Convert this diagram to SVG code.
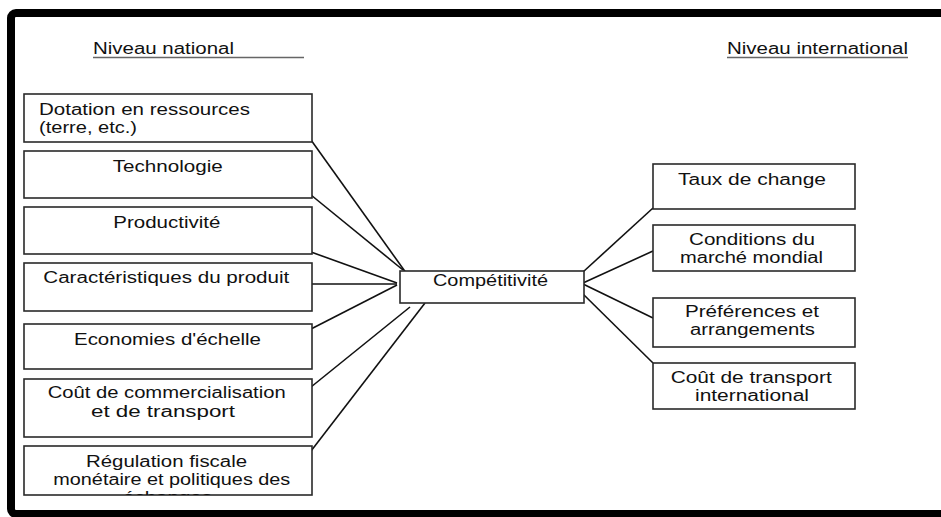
<svg xmlns="http://www.w3.org/2000/svg" width="941" height="517" viewBox="0 0 941 517">
<style>
.box{fill:#fff;stroke:#2a2a2a;stroke-width:1.6}
.t{font-family:"Liberation Sans",Arial,sans-serif;font-size:16px;fill:#111}
.conn line{stroke:#111;stroke-width:1.6}
.ul{stroke:#666;stroke-width:1.4}
</style>
<defs>
<clipPath id="clip7"><rect x="24" y="446" width="288" height="49"/></clipPath>
</defs>
<rect x="0" y="0" width="941" height="517" fill="#fff"/>
<rect x="11" y="13" width="945" height="501" rx="5" fill="none" stroke="#000" stroke-width="8"/>

<g id="headers">
<text class="t" x="93" y="54" textLength="141" lengthAdjust="spacingAndGlyphs">Niveau national</text>
<line class="ul" x1="93" y1="57.5" x2="304" y2="57.5"/>
<text class="t" x="727" y="54" textLength="181" lengthAdjust="spacingAndGlyphs">Niveau international</text>
<line class="ul" x1="727" y1="57.5" x2="908" y2="57.5"/>
</g>

<g class="conn" id="connectors">
<line x1="311" y1="140" x2="409" y2="277"/>
<line x1="311" y1="195" x2="403" y2="270"/>
<line x1="311" y1="252" x2="397" y2="283"/>
<line x1="311" y1="284" x2="397" y2="284"/>
<line x1="311" y1="329" x2="397" y2="285"/>
<line x1="311" y1="387" x2="410" y2="307"/>
<line x1="311" y1="451" x2="425" y2="303"/>
<line x1="583" y1="272" x2="653" y2="208"/>
<line x1="583" y1="283" x2="653" y2="251"/>
<line x1="583" y1="284" x2="653" y2="318"/>
<line x1="583" y1="294" x2="653" y2="363"/>
</g>

<g id="n-dotation">
<rect class="box" x="24" y="94" width="288" height="48"/>
<text class="t" x="39" y="115" textLength="211" lengthAdjust="spacingAndGlyphs">Dotation en ressources</text>
<text class="t" x="39" y="133" textLength="98" lengthAdjust="spacingAndGlyphs">(terre, etc.)</text>
</g>
<g id="n-technologie">
<rect class="box" x="24" y="151" width="288" height="47"/>
<text class="t" x="112.7" y="172" textLength="110" lengthAdjust="spacingAndGlyphs">Technologie</text>
</g>
<g id="n-productivite">
<rect class="box" x="24" y="207" width="288" height="47"/>
<text class="t" x="113.3" y="228" textLength="107" lengthAdjust="spacingAndGlyphs">Productivité</text>
</g>
<g id="n-caracteristiques">
<rect class="box" x="24" y="263" width="288" height="48"/>
<text class="t" x="43.3" y="283" textLength="246" lengthAdjust="spacingAndGlyphs">Caractéristiques du produit</text>
</g>
<g id="n-economies">
<rect class="box" x="24" y="324" width="288" height="45"/>
<text class="t" x="74" y="345" textLength="187" lengthAdjust="spacingAndGlyphs">Economies d'échelle</text>
</g>
<g id="n-cout-com">
<rect class="box" x="24" y="379" width="288" height="58"/>
<text class="t" x="47.7" y="398" textLength="238" lengthAdjust="spacingAndGlyphs">Coût de commercialisation</text>
<text class="t" x="91" y="417" textLength="144" lengthAdjust="spacingAndGlyphs">et de transport</text>
</g>
<g id="n-regulation">
<rect class="box" x="24" y="446" width="288" height="49"/>
<g clip-path="url(#clip7)">
<text class="t" x="86" y="467" textLength="161" lengthAdjust="spacingAndGlyphs">Régulation fiscale</text>
<text class="t" x="53.3" y="485" textLength="237" lengthAdjust="spacingAndGlyphs">monétaire et politiques des</text>
<text class="t" x="123" y="503" textLength="89" lengthAdjust="spacingAndGlyphs">échanges</text>
</g>
</g>

<g id="n-competitivite">
<rect class="box" x="400" y="271" width="184" height="32"/>
<text class="t" x="433" y="286" textLength="115" lengthAdjust="spacingAndGlyphs">Compétitivité</text>
</g>

<g id="n-taux">
<rect class="box" x="653" y="164" width="202" height="45"/>
<text class="t" x="678" y="185" textLength="148" lengthAdjust="spacingAndGlyphs">Taux de change</text>
</g>
<g id="n-conditions">
<rect class="box" x="653" y="225" width="202" height="46"/>
<text class="t" x="689" y="245" textLength="126" lengthAdjust="spacingAndGlyphs">Conditions du</text>
<text class="t" x="680" y="263" textLength="143" lengthAdjust="spacingAndGlyphs">marché mondial</text>
</g>
<g id="n-preferences">
<rect class="box" x="653" y="298" width="202" height="49"/>
<text class="t" x="685" y="317" textLength="134" lengthAdjust="spacingAndGlyphs">Préférences et</text>
<text class="t" x="690" y="335" textLength="125" lengthAdjust="spacingAndGlyphs">arrangements</text>
</g>
<g id="n-cout-transport">
<rect class="box" x="653" y="363" width="202" height="46"/>
<text class="t" x="670.7" y="383" textLength="161" lengthAdjust="spacingAndGlyphs">Coût de transport</text>
<text class="t" x="695" y="401" textLength="114" lengthAdjust="spacingAndGlyphs">international</text>
</g>
</svg>
